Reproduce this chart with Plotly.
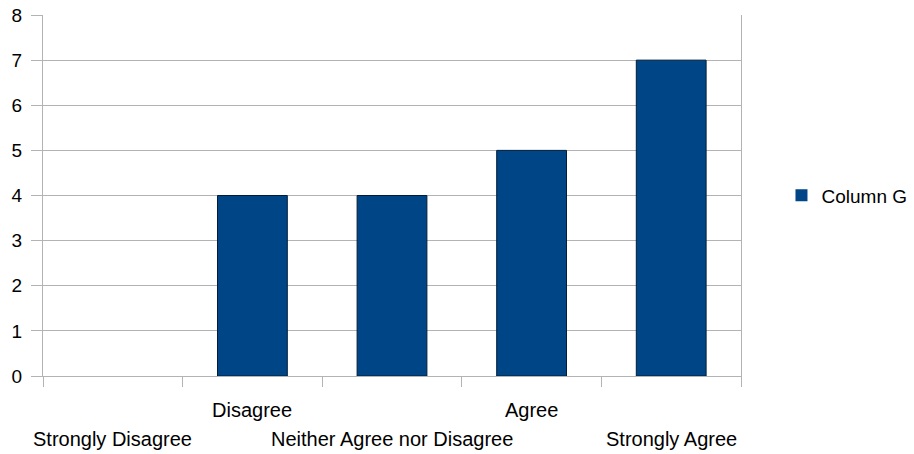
import plotly.graph_objects as go

categories = ["Strongly Disagree", "Disagree", "Neither Agree nor Disagree", "Agree", "Strongly Agree"]
values = [0, 4, 4, 5, 7]
series_name = "Column G"
y_ticks = [0, 1, 2, 3, 4, 5, 6, 7, 8]

GRID = "#b3b3b3"
FONT = "Liberation Sans, Arial, sans-serif"

line_widths = [1 if v > 0 else 0 for v in values]

fig = go.Figure()
fig.add_trace(go.Bar(
    x=categories, y=values, name=series_name,
    marker=dict(color="#004586", line=dict(color="#001e3a", width=line_widths)),
    showlegend=True,
))

annotations = []
for i, c in enumerate(categories):
    row = 1 if i % 2 == 1 else 2
    annotations.append(dict(
        x=c, y=0, xref="x", yref="y", text=c, showarrow=False,
        yanchor="top", xanchor="center",
        yshift=-21 if row == 1 else -50,
        font=dict(family=FONT, size=20, color="#000000"),
    ))

fig.update_layout(
    width=914, height=454,
    margin=dict(l=43, r=173, t=15, b=78, autoexpand=False),
    paper_bgcolor="white", plot_bgcolor="white",
    font=dict(family=FONT, size=19, color="#000000"),
    bargap=0.5,
    annotations=annotations,
    legend=dict(x=1.058, y=0.5, xanchor="left", yanchor="middle",
                font=dict(family=FONT, size=19, color="#000000"),
                bgcolor="rgba(0,0,0,0)"),
    xaxis=dict(
        type="category", range=[-0.5, len(categories) - 0.5],
        showticklabels=False, showgrid=False, automargin=False,
        ticks="outside", tickson="boundaries", ticklen=10, tickcolor=GRID, tickwidth=1,
        showline=True, linecolor=GRID, linewidth=1, zeroline=False,
    ),
    yaxis=dict(
        range=[0, 8], tickvals=y_ticks, showgrid=True, gridcolor=GRID, gridwidth=1,
        automargin=False,
        ticks="outside", ticklen=11, tickcolor=GRID, tickwidth=1, ticklabelstandoff=5,
        showline=True, linecolor=GRID, linewidth=1, mirror=True, zeroline=False,
        tickfont=dict(family=FONT, size=19, color="#000000"),
    ),
)

fig.write_html("out.html")
